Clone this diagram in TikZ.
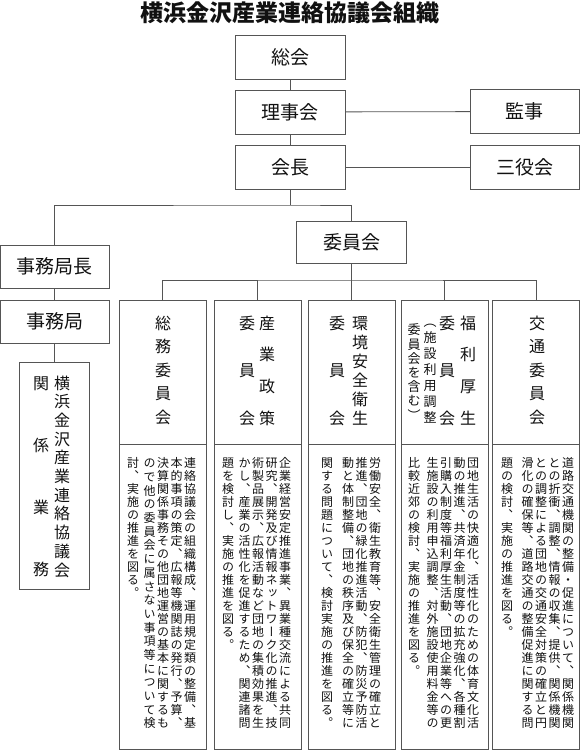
\documentclass[tikz,border=0pt]{standalone}
\usepackage{fontspec}
\newfontfamily\jp{Noto Sans CJK JP}
\newfontfamily\jpv[RawFeature=+vert]{Noto Sans CJK JP}
\definecolor{linec}{HTML}{555555}
\definecolor{txtc}{HTML}{111111}
\makeatletter
\newcommand\vt[2]{\vtop{\offinterlineskip\def\vt@p{#1}\vt@a#2\relax}}
\def\vt@a#1{\ifx\relax#1\else\vbox to \vt@p pt{\vss\hbox to 1em{\hss\vrule height .88em depth .12em width 0pt\relax#1\hss}\vss}\expandafter\vt@a\fi}
\makeatother
\tikzset{
  line/.style={draw=linec, line width=0.8pt},
  box/.style={draw=linec, line width=0.8pt, inner sep=0pt, outer sep=0pt,
    minimum width=110pt, minimum height=44pt, text=txtc,
    font=\fontsize{19}{19}\selectfont\jp},
  cbox/.style={draw=linec, line width=0.8pt, inner sep=0pt, outer sep=0pt,
    minimum width=87pt, minimum height=449pt},
  vcol/.style={inner sep=0pt, outer sep=0pt, anchor=north, text=txtc},
  ctitle/.style={vcol, font=\fontsize{16}{16}\selectfont\jpv},
  csmall/.style={vcol, font=\fontsize{13}{13}\selectfont\jpv},
  bodycol/.style={vcol, font=\fontsize{12}{12}\selectfont\jpv},
}
\newcommand\bcol[3]{\node[bodycol] (#1) at (#2,456.5) {\vt{13}{#3}};}
\begin{document}
\begin{tikzpicture}[x=1pt,y=-1pt]
\useasboundingbox (0,0) rectangle (580,750);
% title
\node[inner sep=0pt, text=txtc, font=\fontsize{23}{23}\selectfont\jp\bfseries] (title) at (290,13) {横浜金沢産業連絡協議会組織};
% top boxes
\node[box] (sokai) at (290,57) {総会};
\node[box] (rijikai) at (290,112) {理事会};
\node[box] (kaicho) at (290,167) {会長};
\node[box, minimum width=109pt] (kanji) at (524.5,111.5) {監事};
\node[box, minimum width=109pt] (sanyaku) at (524.5,167) {三役会};
\node[box, minimum height=42pt] (iinkai) at (351.5,242) {委員会};
\node[box, minimum width=108.5pt, minimum height=43pt] (kyokucho) at (54.75,266.5) {事務局長};
\node[box, minimum width=108.5pt, minimum height=43pt] (jimukyoku) at (54.75,321.5) {事務局};
\node[cbox, minimum width=70pt, minimum height=227pt] (kanren) at (54.75,475.5) {};
% committee boxes
\node[cbox] (c1) at (162.5,524.5) {};
\node[cbox] (c2) at (257.5,524.5) {};
\node[cbox] (c3) at (351.5,524.5) {};
\node[cbox] (c4) at (444.5,524.5) {};
\node[cbox] (c5) at (536,524.5) {};
\foreach \c in {c1,c2,c3,c4,c5} \draw[line] (\c.north west) ++(0,144) -- ++(87,0);
% connectors
\coordinate (j1) at (290,205);
\coordinate (j2) at (351.5,280);
\draw[line] (sokai) -- (rijikai);
\draw[line] (rijikai) -- (kaicho);
\draw[line] (rijikai) -- (kanji);
\draw[line] (kaicho) -- (sanyaku);
\draw[line] (kaicho) -- (j1);
\draw[line] (kyokucho.north) |- (j1) -| (iinkai.north);
\draw[line] (kyokucho) -- (jimukyoku);
\draw[line] (jimukyoku) -- (kanren);
\draw[line] (iinkai) -- (c3);
\draw[line] (c1.north) |- (j2) -| (c5.north);
\draw[line] (c2.north) -- (c2.north |- j2);
\draw[line] (c4.north) -- (c4.north |- j2);
% kanren box text
\node[vcol, font=\fontsize{16}{16}\selectfont\jpv] (k1) at (62,373.65) {\vt{18.7}{横浜金沢産業連絡協議会}};
\node[vcol, font=\fontsize{16}{16}\selectfont\jpv] (k2) at (41,351.85) {\vt{62.3}{関係業務}};
% committee titles
\node[ctitle] (t1) at (163,311.25) {\vt{23.5}{総務委員会}};
\node[ctitle] (t2a) at (267,307.2) {\vt{31.7}{産業政策}};
\node[ctitle] (t2b) at (247,299.25) {\vt{47.5}{委員会}};
\node[ctitle] (t3a) at (360,313.5) {\vt{19}{環境安全衛生}};
\node[ctitle] (t3b) at (337,299.25) {\vt{47.5}{委員会}};
\node[ctitle] (t4a) at (468,307.2) {\vt{31.7}{福利厚生}};
\node[ctitle] (t4b) at (447,299.25) {\vt{47.5}{委員会}};
\node[csmall] (t4c) at (430,314) {\vt{16}{（施設利用調整}};
\node[csmall] (t4d) at (414,322.9) {\vt{14.2}{委員会を含む）}};
\node[ctitle] (t5) at (537,311.25) {\vt{23.5}{交通委員会}};
% body texts
\bcol{b11}{190}{連絡協議会の組織構成、運用規定類の整備、基}
\bcol{b12}{176.5}{本的事項の策定、広報等機関誌の発行、予算、}
\bcol{b13}{163}{決算関係事務その他団地運営の基本に関するも}
\node[bodycol] (b14) at (149.5,456.5) {\vt{13.68}{ので他の委員会に属さない事項等について検}};
\bcol{b15}{133}{討、実施の推進を図る。}
\bcol{b21}{285}{企業経営安定推進事業、異業種交流による共同}
\bcol{b22}{271.5}{研究、開発及び情報ネットワーク化の推進、技}
\bcol{b23}{258}{術製品展示、広報活動など団地の集積効果を生}
\bcol{b24}{244.5}{かし、産業の活性化を促進するため、関連諸問}
\bcol{b25}{228}{題を検討し、実施の推進を図る。}
\bcol{b31}{375}{労働安全、衛生教育等、安全衛生管理の確立と}
\bcol{b32}{361.5}{推進、団地の緑化推進活動、防犯、防災予防活}
\bcol{b33}{348}{動と体制整備、団地の秩序及び保全の確立等に}
\bcol{b34}{327}{関する問題について、検討実施の推進を図る。}
\bcol{b41}{473}{団地生活の快適化、活性化のための体育文化活}
\bcol{b42}{459.5}{動の推進、共済年金制度等の拡充強化、各種割}
\bcol{b43}{446}{引購入制度等福利厚生活動、団地企業等への更}
\bcol{b44}{432.5}{生施設の利用申込調整、対外施設使用料金等の}
\bcol{b45}{414}{比較近郊の検討、実施の推進を図る。}
\bcol{b51}{568}{道路交通機関の整備・促進について、関係機関}
\bcol{b52}{554.5}{との折衝、調整、情報の収集、提供、関係機関}
\bcol{b53}{541}{との調整による団地の交通安全対策の確立と円}
\bcol{b54}{527.5}{滑化の確保等、道路交通の整備促進に関する問}
\bcol{b55}{507}{題の検討、実施の推進を図る。}
\end{tikzpicture}
\end{document}
